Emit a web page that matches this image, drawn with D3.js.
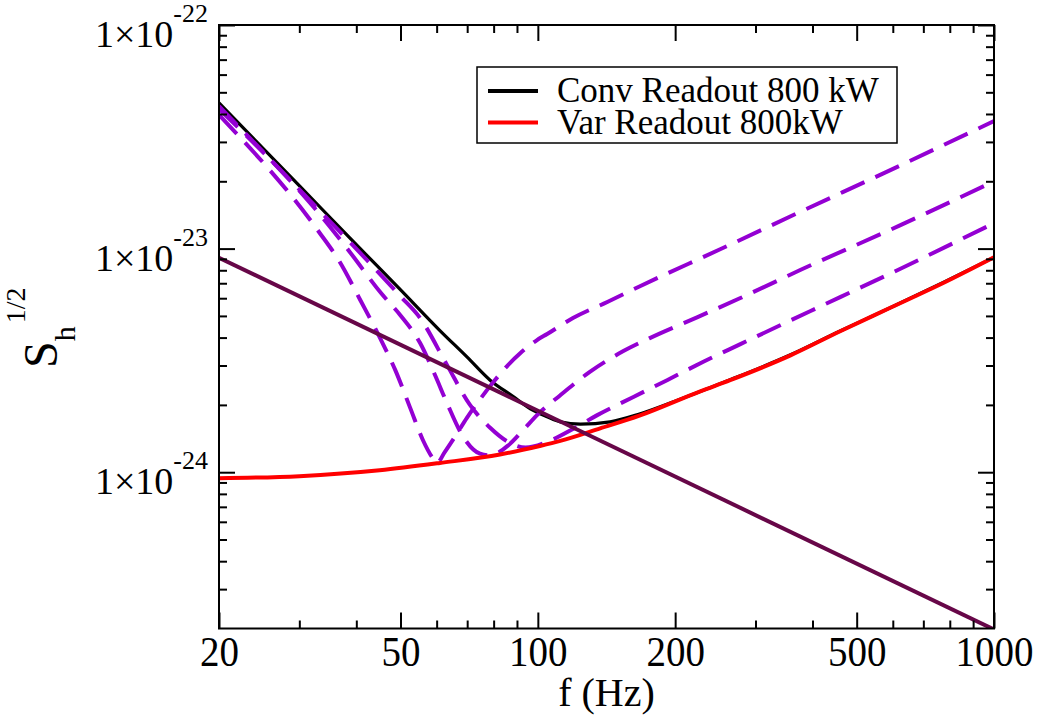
<!DOCTYPE html>
<html>
<head>
<meta charset="utf-8">
<script src="https://cdn.jsdelivr.net/npm/d3@7"></script>
<style>
  body { margin: 0; background: #fff; }
  svg text { font-family: "Liberation Serif", "Times New Roman", serif !important; fill: #000; }
</style>
</head>
<body>
<div id="chart"></div>
<script>
// values (frequency in Hz, strain noise S_h^1/2)
var convF = [20, 30.1, 38.7, 49.9, 61, 70, 78.6, 88, 96.3, 104.8, 112, 124, 144, 167, 205, 264, 358, 460, 594, 778, 1000];
var convS = [4.48e-23, 1.9e-23, 1.116e-23, 6.57e-24, 4.3e-24, 3.27e-24, 2.58e-24, 2.19e-24, 1.92e-24, 1.77e-24, 1.68e-24, 1.64e-24, 1.68e-24, 1.82e-24, 2.12e-24, 2.59e-24, 3.35e-24, 4.28e-24, 5.45e-24, 7.1e-24, 9.14e-24];

var varF = [20, 30, 45, 61, 82.6, 101, 112, 137, 167, 227, 264, 358, 460, 594, 778, 1000];
var varS = [9.4e-25, 9.6e-25, 1.02e-24, 1.1e-24, 1.2e-24, 1.31e-24, 1.38e-24, 1.57e-24, 1.79e-24, 2.3e-24, 2.58e-24, 3.33e-24, 4.27e-24, 5.45e-24, 7.05e-24, 9.14e-24];

var thermF = [20, 1000];
var thermS = [9.1e-24, 1.98e-25];

var dash1F = [20, 33.1, 36.8, 40.8, 45.1, 48.7, 52.5, 56, 58.6, 60.1, 62.5, 65.8, 69.9, 74.7, 79.9, 84.8, 91.6, 99.6, 104.8, 119.4, 142, 167, 251, 376, 622, 1000];
var dash1S = [3.96e-23, 1.19e-23, 8.71e-24, 5.89e-24, 3.98e-24, 2.86e-24, 1.94e-24, 1.39e-24, 1.17e-24, 1.1e-24, 1.23e-24, 1.44e-24, 1.75e-24, 2.12e-24, 2.53e-24, 2.92e-24, 3.41e-24, 3.9e-24, 4.15e-24, 4.89e-24, 5.77e-24, 6.77e-24, 9.93e-24, 1.46e-23, 2.35e-23, 3.72e-23];

var dash2F = [20, 33.1, 38.7, 45.5, 49.9, 55.2, 59.5, 63.2, 68.6, 74.7, 78.6, 86.2, 92.8, 99.6, 112, 130, 154, 176, 224, 278, 376, 622, 1000];
var dash2S = [4.21e-23, 1.44e-23, 9.66e-24, 6.26e-24, 5.05e-24, 3.78e-24, 2.72e-24, 2.04e-24, 1.44e-24, 1.21e-24, 1.19e-24, 1.32e-24, 1.54e-24, 1.8e-24, 2.21e-24, 2.81e-24, 3.48e-24, 3.98e-24, 4.94e-24, 6.01e-24, 8.02e-24, 1.27e-23, 2.0e-23];

var dash3F = [20, 33.1, 42.6, 49.9, 55.2, 63.2, 71, 78.6, 87, 94, 106, 119.4, 135, 162, 192, 230, 278, 460, 622, 1000];
var dash3S = [4.34e-23, 1.49e-23, 8.71e-24, 6.14e-24, 4.89e-24, 3.02e-24, 2.0e-24, 1.58e-24, 1.35e-24, 1.29e-24, 1.38e-24, 1.56e-24, 1.8e-24, 2.17e-24, 2.58e-24, 3.11e-24, 3.74e-24, 6.07e-24, 8.11e-24, 1.3e-23];

var xMajor = [20, 50, 100, 200, 500, 1000];
var xMinor = [30, 40, 60, 70, 80, 90, 300, 400, 600, 700, 800, 900];
var yMajor = [1e-24, 1e-23, 1e-22];
var yExp = ["-24", "-23", "-22"];
var yMinor = [3e-25, 4e-25, 5e-25, 6e-25, 7e-25, 8e-25, 9e-25,
              2e-24, 3e-24, 4e-24, 5e-24, 6e-24, 7e-24, 8e-24, 9e-24,
              2e-23, 3e-23, 4e-23, 5e-23, 6e-23, 7e-23, 8e-23, 9e-23];
var legendNames = ["Conv Readout 800 kW", "Var Readout 800kW"];
var legendColors = ["#000000", "#ff0000"];

var svgwidth = 1037, svgheight = 715;
var pl = 219, pr = 994, pt = 25, pb = 628.5;
var serif = "'Liberation Serif', 'Times New Roman', serif";

var svg = d3.select("#chart").append("svg").attr("width", svgwidth).attr("height", svgheight)
    .attr("font-family", serif);

var x = d3.scaleLog().domain([20, 1000]).range([pl, pr]);
var y = d3.scaleLog().domain([2e-25, 1e-22]).range([pb, pt]);

svg.append("clipPath").attr("id", "clip").append("rect")
    .attr("x", pl).attr("y", pt).attr("width", pr - pl).attr("height", pb - pt);

var plot = svg.append("g").attr("clip-path", "url(#clip)");

function pts(fs, ss) { return fs.map(function(f, i) { return [f, ss[i]]; }); }
var line = d3.line().x(d => x(d[0])).y(d => y(d[1])).curve(d3.curveMonotoneX);

plot.append("path").datum(pts(convF, convS)).attr("d", line)
    .attr("fill", "none").attr("stroke", "#000").attr("stroke-width", 3.2);

[[dash1F, dash1S], [dash2F, dash2S], [dash3F, dash3S]].forEach(function(s) {
    plot.append("path").datum(pts(s[0], s[1])).attr("d", line)
        .attr("fill", "none").attr("stroke", "#9400d3").attr("stroke-width", 4)
        .attr("stroke-dasharray", "26,12");
});

plot.append("path").datum(pts(varF, varS)).attr("d", line)
    .attr("fill", "none").attr("stroke", "#ff0000").attr("stroke-width", 4);

plot.append("path").datum(pts(thermF, thermS)).attr("d", d3.line().x(d => x(d[0])).y(d => y(d[1])))
    .attr("fill", "none").attr("stroke", "#670748").attr("stroke-width", 4);

// axes: ticks inward on all four sides
function styleAxis(g) {
    g.attr("font-family", serif);
    g.select(".domain").remove();
    g.selectAll("line").attr("stroke", "#000").attr("stroke-width", 2);
}
svg.append("g").attr("transform", `translate(0,${pb})`)
    .call(d3.axisBottom(x).tickValues(xMajor).tickSize(-16).tickFormat(d3.format("d")))
    .call(styleAxis)
    .selectAll("text").attr("font-size", 39).attr("dy", null).attr("y", 38)
    .attr("transform", "translate(0,38) scale(1,1.1) translate(0,-38)");
svg.append("g").attr("transform", `translate(0,${pb})`)
    .call(d3.axisBottom(x).tickValues(xMinor).tickSize(-8).tickFormat("")).call(styleAxis);
svg.append("g").attr("transform", `translate(0,${pt})`)
    .call(d3.axisTop(x).tickValues(xMajor).tickSize(-16).tickFormat("")).call(styleAxis);
svg.append("g").attr("transform", `translate(0,${pt})`)
    .call(d3.axisTop(x).tickValues(xMinor).tickSize(-8).tickFormat("")).call(styleAxis);

svg.append("g").attr("transform", `translate(${pl},0)`)
    .call(d3.axisLeft(y).tickValues(yMajor).tickSize(-16).tickFormat("")).call(styleAxis);
svg.append("g").attr("transform", `translate(${pl},0)`)
    .call(d3.axisLeft(y).tickValues(yMinor).tickSize(-8).tickFormat("")).call(styleAxis);
svg.append("g").attr("transform", `translate(${pr},0)`)
    .call(d3.axisRight(y).tickValues(yMajor).tickSize(-16).tickFormat("")).call(styleAxis);
svg.append("g").attr("transform", `translate(${pr},0)`)
    .call(d3.axisRight(y).tickValues(yMinor).tickSize(-8).tickFormat("")).call(styleAxis);

// y tick labels with exponent
yMajor.forEach(function(v, i) {
    var t = svg.append("text").attr("x", 208).attr("y", y(v) + 22).attr("text-anchor", "end");
    t.append("tspan").attr("font-size", 38).text("1\u00d710");
    t.append("tspan").attr("font-size", 26).attr("dy", -25).text(yExp[i]);
});

// frame
svg.append("rect").attr("x", pl).attr("y", pt).attr("width", pr - pl).attr("height", pb - pt)
    .attr("fill", "none").attr("stroke", "#000").attr("stroke-width", 2);

// axis titles
svg.append("text").attr("x", (pl + pr) / 2).attr("y", 706).attr("text-anchor", "middle")
    .attr("font-size", 40).text("f (Hz)");

var yl = svg.append("text").attr("transform", "translate(57,368) rotate(-90)");
yl.append("tspan").attr("font-size", 48).text("S");
yl.append("tspan").attr("font-size", 30).attr("dy", 18).text("h");
yl.append("tspan").attr("font-size", 28).attr("dy", -50).attr("dx", 3).text("1/2");

// legend
var lg = svg.append("g");
lg.append("rect").attr("x", 477).attr("y", 67).attr("width", 420).attr("height", 76)
    .attr("fill", "#fff").attr("stroke", "#000").attr("stroke-width", 1.5);
legendNames.forEach(function(n, i) {
    lg.append("line").attr("x1", 488).attr("x2", 538).attr("y1", 91 + i * 31.5).attr("y2", 91 + i * 31.5)
        .attr("stroke", legendColors[i]).attr("stroke-width", 4);
    lg.append("text").attr("x", 557).attr("y", 102 + i * 32).attr("font-size", 35).text(n);
});
</script>
</body>
</html>
